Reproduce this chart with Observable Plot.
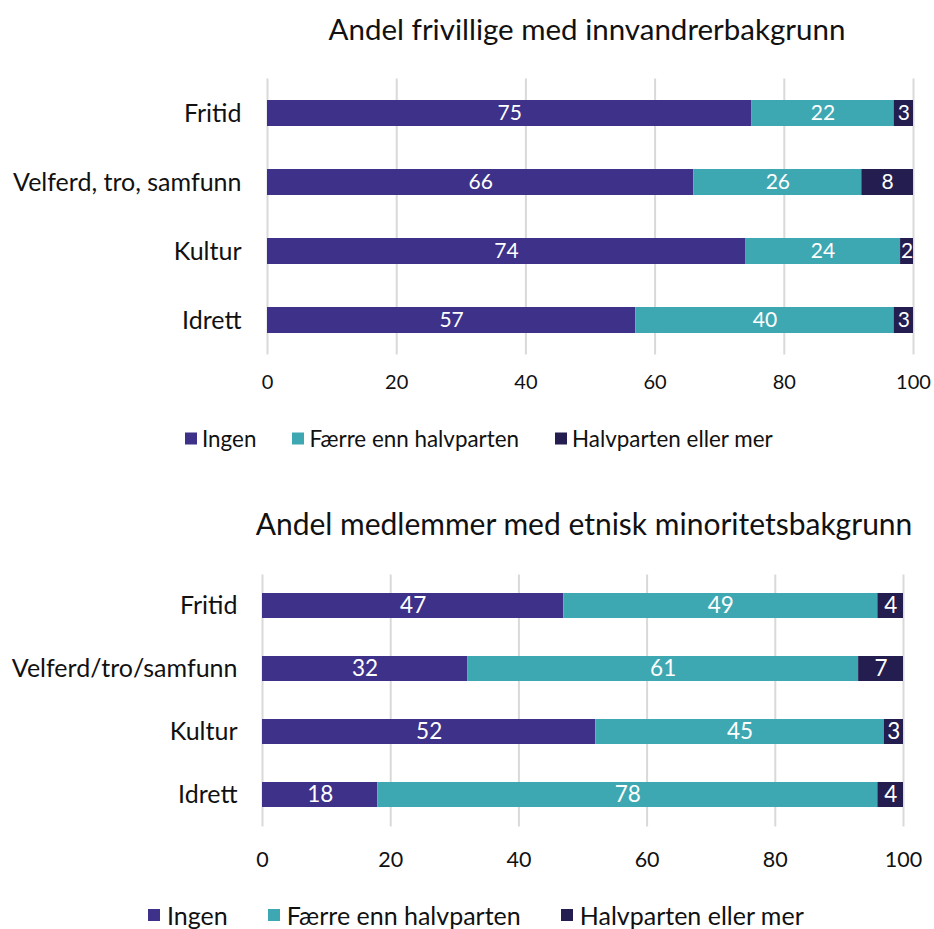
<!DOCTYPE html>
<html>
<head>
<meta charset="utf-8">
<script src="https://cdn.jsdelivr.net/npm/d3@7"></script>
<script src="https://cdn.jsdelivr.net/npm/@observablehq/plot@0.6"></script>
<style>
  html, body { margin: 0; padding: 0; background: #fff; }
  body { width: 934px; height: 929px; position: relative; overflow: hidden; font-family: Lato, "Open Sans", sans-serif; color: #000; }
  .title { position: absolute; white-space: nowrap; transform: translate(-50%, -50%); color: #111; }
  .legend { position: absolute; display: flex; align-items: center; white-space: nowrap; transform: translateY(-50%); color: #111; }
  .legend .item { display: flex; align-items: center; }
  .legend .sw { width: 12px; height: 12px; display: inline-block; }
  .chart { position: absolute; left: 0; }
</style>
</head>
<body>
<script>
// ---- Data ----
const series = ["Ingen", "Færre enn halvparten", "Halvparten eller mer"];
const colors = ["#3d3189", "#3ea8b2", "#241d4f"];
const xTicks = [0, 20, 40, 60, 80, 100];

const title1 = "Andel frivillige med innvandrerbakgrunn";
const categories1 = ["Fritid", "Velferd, tro, samfunn", "Kultur", "Idrett"];
const ingen1 = [75, 66, 74, 57];
const faerre1 = [22, 26, 24, 40];
const halv1 = [3, 8, 2, 3];

const title2 = "Andel medlemmer med etnisk minoritetsbakgrunn";
const categories2 = ["Fritid", "Velferd/tro/samfunn", "Kultur", "Idrett"];
const ingen2 = [47, 32, 52, 18];
const faerre2 = [49, 61, 45, 78];
const halv2 = [4, 7, 3, 4];

function rows(cats, a, b, c) {
  const out = [];
  cats.forEach((cat, i) => {
    out.push({cat, series: series[0], value: a[i]});
    out.push({cat, series: series[1], value: b[i]});
    out.push({cat, series: series[2], value: c[i]});
  });
  return out;
}

function addChart(cfg) {
  const data = rows(cfg.cats, cfg.a, cfg.b, cfg.c);
  const plot = Plot.plot({
    width: 934,
    height: cfg.height,
    marginTop: cfg.marginTop,
    marginBottom: cfg.marginBottom,
    marginLeft: cfg.marginLeft,
    marginRight: cfg.marginRight,
    style: {fontFamily: "Lato, 'Open Sans', sans-serif", fontSize: cfg.axisFs + "px", color: "#111", background: "transparent", overflow: "visible"},
    x: {domain: [0, 100], ticks: xTicks, tickSize: 0, tickPadding: cfg.xPad, label: null, tickFormat: d => String(d)},
    y: {domain: cfg.cats, paddingInner: cfg.pi, paddingOuter: cfg.pi / 2, tickSize: 0, tickPadding: cfg.yPad, label: null},
    color: {domain: series, range: colors},
    marks: [
      Plot.ruleX(xTicks, {stroke: "#d9d9d9", strokeWidth: 2}),
      Plot.barX(data, Plot.stackX({x: "value", y: "cat", fill: "series", z: "series"})),
      Plot.textX(data, Plot.stackX({x: "value", y: "cat", z: "series", text: d => String(d.value), fill: "white", fontSize: cfg.labelFs})),
      Plot.axisY({tickSize: 0, tickPadding: cfg.yPad, fontSize: cfg.catFs}),
      Plot.axisX({ticks: xTicks, tickSize: 0, tickPadding: cfg.xPad, fontSize: cfg.axisFs, label: null})
    ]
  });
  plot.classList.add("chart");
  plot.style.top = cfg.top + "px";
  document.body.appendChild(plot);

  const t = document.createElement("div");
  t.className = "title";
  t.textContent = cfg.title;
  t.style.left = cfg.titleX + "px";
  t.style.top = cfg.titleY + "px";
  t.style.fontSize = cfg.titleFs + "px";
  document.body.appendChild(t);

  const lg = document.createElement("div");
  lg.className = "legend";
  lg.style.left = cfg.legX + "px";
  lg.style.top = cfg.legY + "px";
  lg.style.fontSize = cfg.legFs + "px";
  series.forEach((s, i) => {
    const it = document.createElement("div");
    it.className = "item";
    it.style.marginRight = cfg.legGap + "px";
    const sw = document.createElement("span");
    sw.className = "sw";
    sw.style.background = colors[i];
    sw.style.marginRight = cfg.swGap + "px";
    const tx = document.createElement("span");
    tx.textContent = s;
    it.appendChild(sw);
    it.appendChild(tx);
    lg.appendChild(it);
  });
  document.body.appendChild(lg);
}

addChart({
  title: title1, cats: categories1, a: ingen1, b: faerre1, c: halv1,
  top: 60, height: 340, marginTop: 18.5, marginBottom: 45.5, marginLeft: 267, marginRight: 21,
  pi: 0.62, xPad: 20, yPad: 26, axisFs: 20, catFs: 25, labelFs: 21,
  titleX: 587, titleY: 28, titleFs: 29.5,
  legX: 185, legY: 438, legFs: 22.4, legGap: 36, swGap: 5
});

addChart({
  title: title2, cats: categories2, a: ingen2, b: faerre2, c: halv2,
  top: 555, height: 325, marginTop: 19.5, marginBottom: 53.5, marginLeft: 262, marginRight: 31,
  pi: 0.603, xPad: 25, yPad: 25, axisFs: 21.5, catFs: 25, labelFs: 22.5,
  titleX: 584, titleY: 523, titleFs: 30,
  legX: 148, legY: 915, legFs: 25, legGap: 40, swGap: 7
});
</script>
</body>
</html>
